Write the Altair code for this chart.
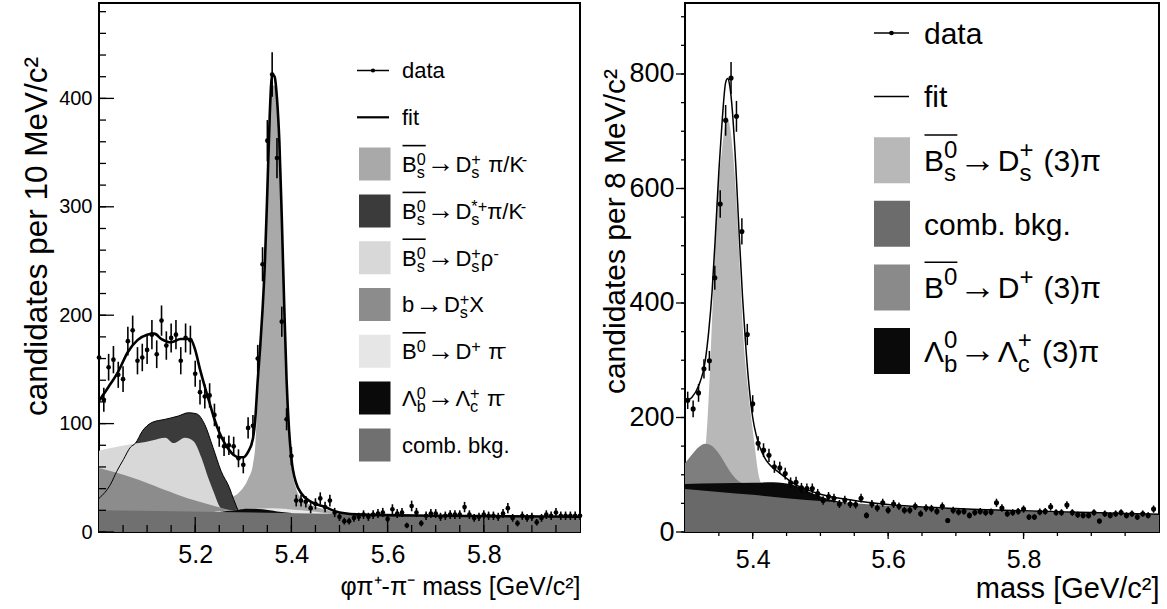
import altair as alt
import numpy as np
import pandas as pd

FONT = "Liberation Sans"

# ======================= LEFT PANEL: phi pi+ - pi- mass =======================
left_bin_start = 5.00
left_bin_width = 0.01
left_counts = [161, 122, 152, 159, 145, 141, 176, 186, 158, 161,
               168, 182, 164, 195, 172, 179, 182, 158, 179, 177,
               146, 129, 125, 126, 108, 88, 79, 80, 79, 68,
               62, 96, 98, 160, 247, 361, 422, 345, 194, 104,
               70, 29, 29, 28, 22, 26, 31, 23, 29, 18,
               14, 10, 10, 13, 14, 16, 14, 16, 17, 18,
               12, 21, 17, 18, 6, 24, 18, 8, 15, 17,
               17, 14, 15, 16, 16, 16, 23, 16, 13, 14,
               16, 15, 15, 14, 17, 22, 13, 8, 15, 13,
               14, 9, 13, 16, 15, 18, 15, 15, 15, 15, 15]

left_fit_m = [5.00, 5.02, 5.04, 5.06, 5.08, 5.10, 5.115, 5.13, 5.15, 5.17,
              5.19, 5.20, 5.21, 5.22, 5.23, 5.24, 5.25, 5.26, 5.27, 5.28,
              5.29, 5.30, 5.31, 5.32, 5.325, 5.33, 5.335, 5.34, 5.345, 5.35,
              5.355, 5.36, 5.365, 5.37, 5.375, 5.38, 5.385, 5.39, 5.395, 5.40,
              5.41, 5.42, 5.44, 5.47, 5.50, 5.55, 5.70, 6.00]
left_fit_n = [121, 134, 148, 166, 177, 182, 183, 178, 175, 178,
              178, 168, 150, 134, 119, 104, 92, 83, 76, 71,
              69, 69, 74, 86, 105, 140, 170, 205, 250, 315,
              385, 422, 420, 400, 360, 290, 210, 140, 95, 68,
              45, 36, 28, 23, 18, 16, 15, 14]

# component curves (cumulative tops, drawn back to front)
left_sig_m = [5.15, 5.20, 5.25, 5.27, 5.29, 5.30, 5.31, 5.32, 5.325, 5.33,
              5.335, 5.34, 5.345, 5.35, 5.355, 5.36, 5.365, 5.37, 5.375, 5.38,
              5.385, 5.39, 5.395, 5.40, 5.41, 5.42, 5.44, 5.47, 5.50, 5.55, 5.70, 6.00]
left_sig_n = [19, 22, 27, 31, 36, 41, 49, 62, 80, 125,
              160, 195, 240, 305, 375, 412, 412, 392, 352, 282,
              203, 133, 88, 62, 40, 31, 25, 21, 17, 16, 15, 13.5]
left_dstar_m = [5.00, 5.024, 5.037, 5.051, 5.065, 5.076, 5.09, 5.11, 5.138, 5.165,
                5.186, 5.203, 5.22, 5.237, 5.254, 5.271, 5.28, 5.29]
left_dstar_n = [31, 44, 56, 67, 78, 82, 93, 101, 104, 107,
                110, 109, 99, 78, 56, 41, 30, 19]
left_rho_m = [5.00, 5.03, 5.066, 5.083, 5.11, 5.138, 5.155, 5.179, 5.196, 5.213,
              5.227, 5.24, 5.25, 5.26]
left_rho_n = [75, 78, 81, 82, 84.5, 87, 82, 87, 84, 68.5,
              50, 35, 24, 19]
left_bx_m = [5.00, 5.07, 5.13, 5.20, 5.24, 5.28, 5.30]
left_bx_n = [59, 50, 40, 29, 24, 19.5, 18.5]
left_b0_m = [5.24, 5.30, 5.36, 5.42, 5.48]
left_b0_n = [18.6, 21, 22, 20, 16.8]
left_lb_m = [5.25, 5.28, 5.31, 5.34, 5.37, 5.40]
left_lb_n = [18.5, 20, 21.5, 21, 19, 17.6]
left_comb_m = [5.00, 5.25, 5.50, 5.75, 6.00]
left_comb_n = [20, 18.5, 16.5, 14.5, 13]

left_y_labels = [0, 100, 200, 300, 400]
left_x_labels = [5.2, 5.4, 5.6, 5.8]

# ======================= RIGHT PANEL: mass =======================
right_bin_start = 5.304
right_bin_width = 0.008
right_counts = [230, 215, 243, 285, 299, 444, 573, 719, 793, 726,
                525, 345, 224, 155, 143, 134, 114, 112, 102, 86,
                87, 77, 76, 76, 67, 55, 62, 59, 49, 56,
                49, 48, 59, 29, 49, 42, 51, 38, 49, 45,
                38, 38, 45, 32, 42, 41, 36, 45, 20, 38,
                35, 36, 29, 34, 36, 34, 35, 51, 42, 32,
                34, 36, 40, 26, 26, 35, 36, 44, 34, 34,
                47, 34, 30, 29, 29, 34, 19, 32, 29, 32,
                34, 29, 32, 26, 32, 29, 40]

right_fit_m = [5.30, 5.31, 5.32, 5.33, 5.335, 5.34, 5.345, 5.35, 5.355, 5.36,
               5.363, 5.366, 5.37, 5.375, 5.38, 5.385, 5.39, 5.395, 5.40, 5.405,
               5.41, 5.42, 5.43, 5.44, 5.46, 5.48, 5.50, 5.55, 5.60, 5.70,
               5.80, 5.90, 6.00]
right_fit_n = [228, 235, 255, 300, 350, 420, 520, 630, 720, 785,
               792, 780, 735, 640, 520, 410, 320, 250, 200, 170,
               150, 125, 112, 103, 85, 74, 66, 55, 48, 41,
               37, 34, 31]

right_sig_m = [5.30, 5.31, 5.32, 5.33, 5.337, 5.342, 5.347, 5.354, 5.362, 5.371,
               5.376, 5.381, 5.386, 5.393, 5.401, 5.41, 5.42, 5.44, 5.47, 5.50]
right_sig_n = [40, 60, 90, 145, 285, 431, 576, 660, 725, 660,
               576, 460, 344, 250, 169, 93, 70, 50, 35, 25]
right_b0_m = [5.30, 5.31, 5.32, 5.33, 5.34, 5.35, 5.36, 5.37, 5.38, 5.39, 5.40]
right_b0_n = [120, 135, 148, 154, 150, 137, 118, 100, 88, 84, 84]
right_lb_m = [5.30, 5.35, 5.40, 5.43, 5.46, 5.49, 5.52, 5.55]
right_lb_n = [84, 85, 86, 87, 82, 67, 55, 50]
right_comb_m = [5.30, 5.35, 5.40, 5.45, 5.50, 5.55, 5.60, 5.65, 5.70, 5.80, 5.90, 6.00]
right_comb_n = [75, 70, 65, 59, 54, 50, 46, 43, 40, 36, 33, 30]

right_y_labels = [0, 200, 400, 600, 800]
right_x_labels = [5.4, 5.6, 5.8]

# legend texts (pieces: normal text, superscript, sub+superscript, overlined B, arrow)
ARROW = ("arr",)
left_legend = [
    [("ob", "B", "0", "s"), ARROW, ("n", "D"), ("ss", "+", "s"), ("n", " \u03c0/K"), ("sup", "-")],
    [("ob", "B", "0", "s"), ARROW, ("n", "D"), ("ss", "*+", "s"), ("n", "\u03c0/K"), ("sup", "-")],
    [("ob", "B", "0", "s"), ARROW, ("n", "D"), ("ss", "+", "s"), ("n", "\u03c1"), ("sup", "-")],
    [("n", "b"), ARROW, ("n", "D"), ("ss", "+", "s"), ("n", "X")],
    [("ob", "B", "0", None), ARROW, ("n", "D"), ("sup", "+"), ("n", " \u03c0"), ("sup", "-")],
    [("n", "\u039b"), ("ss", "0", "b"), ARROW, ("n", "\u039b"), ("ss", "+", "c"), ("n", " \u03c0"), ("sup", "-")],
    [("n", "comb. bkg.")],
]
left_legend_colors = ["#a9a9a9", "#3b3b3b", "#d8d8d8", "#8c8c8c", "#e6e6e6", "#0a0a0a", "#707070"]

right_legend = [
    [("ob", "B", "0", "s"), ARROW, ("n", "D"), ("ss", "+", "s"), ("n", " (3)\u03c0")],
    [("n", "comb. bkg.")],
    [("ob", "B", "0", None), ARROW, ("n", "D"), ("sup", "+"), ("n", " (3)\u03c0")],
    [("n", "\u039b"), ("ss", "0", "b"), ARROW, ("n", "\u039b"), ("ss", "+", "c"), ("n", " (3)\u03c0")],
]
right_legend_colors = ["#b8b8b8", "#6c6c6c", "#8a8a8a", "#0a0a0a"]

# ---------------------------------------------------------------------------
W = {' ': 0.278, 'a': 0.556, 'b': 0.556, 'c': 0.5, 'd': 0.556, 'e': 0.556, 'f': 0.278,
     'g': 0.556, 'i': 0.222, 'k': 0.5, 'm': 0.833, 'o': 0.556, 's': 0.5, 't': 0.278,
     '.': 0.278, 'B': 0.667, 'D': 0.722, 'K': 0.667, 'X': 0.667, '0': 0.556, '3': 0.556,
     '+': 0.584, '-': 0.333, '/': 0.278, '(': 0.333, ')': 0.333, '*': 0.389,
     '\u03c0': 0.58, '\u03c1': 0.58, '\u039b': 0.667}


def tw(s, size):
    return sum(W.get(ch, 0.556) for ch in s) * size


def layout_label(pieces, x0, base, F, small, up, down):
    texts, arrows, lines = [], [], []
    x = x0
    fs = small * F
    for p in pieces:
        k = p[0]
        if k == "n":
            s = p[1]
            lead = len(s) - len(s.lstrip(" "))
            x += lead * W[" "] * F * 1.2
            s = s.lstrip(" ")
            texts.append((x, base, s, F))
            x += tw(s, F)
        elif k == "arr":
            gap, aw = 0.2 * F, 0.95 * F
            arrows.append((x + gap + aw / 2, base + 0.02 * F, "\u2192", 1.25 * F))
            x += 2 * gap + aw
        elif k == "sup":
            texts.append((x, base - up * F, p[1], fs))
            x += tw(p[1], fs)
        elif k == "ss":
            texts.append((x, base - up * F, p[1], fs))
            texts.append((x, base + down * F, p[2], fs))
            x += max(tw(p[1], fs), tw(p[2], fs))
        elif k == "ob":
            texts.append((x, base, p[1], F))
            xb = x + tw(p[1], F)
            texts.append((xb, base - up * F, p[2], fs))
            w2 = tw(p[2], fs)
            if p[3]:
                texts.append((xb, base + down * F, p[3], fs))
                w2 = max(w2, tw(p[3], fs))
            lines.append((x + 0.5, xb + w2, base - 1.2 * F))
            x = xb + w2
    return texts, arrows, lines


def legend_layers(entries, colors, F, small, up, down, row0, dy, sw_x0, sw_x1, sw_h,
                  text_x, fit_w, dot_size, line_x0, line_x1):
    texts, arrows, olines, rects = [], [], [], []
    rows = [("data", row0), ("fit", row0 + dy)]
    for lab, yc in rows:
        texts.append((text_x, yc + 0.36 * F, lab, F))
    for i, pieces in enumerate(entries):
        yc = row0 + dy * (i + 2)
        t, a, l = layout_label(pieces, text_x, yc + 0.36 * F, F, small, up, down)
        texts += t
        arrows += a
        olines += l
        rects.append((sw_x0, sw_x1, yc - sw_h / 2, yc + sw_h / 2, colors[i]))
    tdf = pd.DataFrame(texts, columns=["x", "y", "t", "s"])
    adf = pd.DataFrame(arrows, columns=["x", "y", "t", "s"])
    odf = pd.DataFrame(olines, columns=["x", "x2", "y"])
    rdf = pd.DataFrame(rects, columns=["x", "x2", "y", "y2", "c"])
    sym = pd.DataFrame({"x": [line_x0], "x2": [line_x1], "y": [row0],
                        "xd": [(line_x0 + line_x1) / 2]})
    fsym = pd.DataFrame({"x": [line_x0], "x2": [line_x1], "y": [row0 + dy]})
    nx = dict(scale=None, axis=None)
    L = []
    L.append(alt.Chart(rdf).mark_rect().encode(
        x=alt.X("x:Q", **nx), x2="x2:Q", y=alt.Y("y:Q", **nx), y2="y2:Q",
        color=alt.Color("c:N", scale=None, legend=None)))
    L.append(alt.Chart(tdf).mark_text(align="left", baseline="alphabetic", font=FONT,
                                      color="black").encode(
        x=alt.X("x:Q", **nx), y=alt.Y("y:Q", **nx), text="t:N",
        size=alt.Size("s:Q", scale=None, legend=None)))
    L.append(alt.Chart(adf).mark_text(align="center", baseline="alphabetic", font=FONT,
                                      color="black").encode(
        x=alt.X("x:Q", **nx), y=alt.Y("y:Q", **nx), text="t:N",
        size=alt.Size("s:Q", scale=None, legend=None)))
    L.append(alt.Chart(odf).mark_rule(color="black", strokeWidth=1.6).encode(
        x=alt.X("x:Q", **nx), x2="x2:Q", y=alt.Y("y:Q", **nx)))
    L.append(alt.Chart(sym).mark_rule(color="black", strokeWidth=1.5).encode(
        x=alt.X("x:Q", **nx), x2="x2:Q", y=alt.Y("y:Q", **nx)))
    L.append(alt.Chart(sym).mark_circle(color="black", opacity=1, size=dot_size).encode(
        x=alt.X("xd:Q", **nx), y=alt.Y("y:Q", **nx)))
    L.append(alt.Chart(fsym).mark_rule(color="black", strokeWidth=fit_w).encode(
        x=alt.X("x:Q", **nx), x2="x2:Q", y=alt.Y("y:Q", **nx)))
    return L


def area(ms, ns, color, xs, ys, xa, ya):
    df = pd.DataFrame({"m": ms, "v": ns})
    return alt.Chart(df).mark_area(color=color, interpolate="monotone", clip=True,
                                   opacity=1).encode(
        x=alt.X("m:Q", scale=xs, axis=xa), y=alt.Y("v:Q", scale=ys, axis=ya))


def line(ms, ns, width, xs, ys, xa, ya):
    df = pd.DataFrame({"m": ms, "v": ns})
    return alt.Chart(df).mark_line(color="black", strokeWidth=width, interpolate="monotone",
                                   clip=True).encode(
        x=alt.X("m:Q", scale=xs, axis=xa), y=alt.Y("v:Q", scale=ys, axis=ya))


def data_layers(start, width, counts, xs, ys, xa, ya, dot, ew):
    df = pd.DataFrame({"m": np.round(start + width * np.arange(len(counts)), 4),
                       "n": counts})
    base = alt.Chart(df).transform_calculate(
        lo="datum.n - sqrt(datum.n)", hi="datum.n + sqrt(datum.n)")
    bars = base.mark_rule(color="black", strokeWidth=ew).encode(
        x=alt.X("m:Q", scale=xs, axis=xa), y=alt.Y("lo:Q", scale=ys, axis=ya), y2="hi:Q")
    pts = alt.Chart(df).mark_circle(color="black", opacity=1, size=dot).encode(
        x=alt.X("m:Q", scale=xs, axis=xa), y=alt.Y("n:Q", scale=ys, axis=ya))
    return [bars, pts]


def tick_rules(values, channel, scale, axis, length, H, inward, width=1.3):
    df = pd.DataFrame({"v": values})
    c = alt.Chart(df).mark_rule(color="black", strokeWidth=width)
    if channel == "y":
        x0, x1 = (0, length) if inward else (0, -length)
        return c.encode(y=alt.Y("v:Q", scale=scale, axis=axis),
                        x=alt.value(x0), x2=alt.value(x1))
    y0, y1 = (H, H - length) if inward else (H, H + length)
    return c.encode(x=alt.X("v:Q", scale=scale, axis=axis),
                    y=alt.value(y0), y2=alt.value(y1))


H = 529

# ---------------- left chart ----------------
LW = 481
lxs = alt.Scale(domain=[5.0, 6.0], nice=False, zero=False)
lys = alt.Scale(domain=[0, 488], nice=False, zero=True)
lxa = alt.Axis(values=left_x_labels, format=".1f", ticks=False, domain=False, grid=False,
               labelFontSize=25, labelPadding=10, labelColor="black", labelFont=FONT,
               title="\u03c6\u03c0\u207a-\u03c0\u207b mass [GeV/c\u00b2]", titleFontSize=25,
               titleFont=FONT, titleFontWeight="normal", titleColor="black",
               titleAnchor="end", titleAlign="right", titleBaseline="alphabetic",
               titleX=LW, titleY=62)
lya = alt.Axis(values=left_y_labels, ticks=False, domain=False, grid=False,
               labelFontSize=20, labelPadding=7, labelColor="black", labelFont=FONT,
               title="candidates per 10 MeV/c\u00b2", titleFontSize=31.5, titleFont=FONT,
               titleFontWeight="normal", titleColor="black", titleAngle=270,
               titleAlign="center", titleBaseline="alphabetic", titleX=-53, titleY=233)

left_layers = [area(left_sig_m, left_sig_n, "#a9a9a9", lxs, lys, lxa, lya),
               area(left_dstar_m, left_dstar_n, "#3b3b3b", lxs, lys, lxa, lya),
               area(left_rho_m, left_rho_n, "#d8d8d8", lxs, lys, lxa, lya),
               area(left_bx_m, left_bx_n, "#8c8c8c", lxs, lys, lxa, lya),
               area(left_b0_m, left_b0_n, "#e9e9e9", lxs, lys, lxa, lya),
               area(left_lb_m, left_lb_n, "#0a0a0a", lxs, lys, lxa, lya),
               area(left_comb_m, left_comb_n, "#707070", lxs, lys, lxa, lya),
               line(left_dstar_m, left_dstar_n, 1.0, lxs, lys, lxa, lya),
               tick_rules(list(range(0, 481, 20)), "y", lys, lya, 7, H, True),
               tick_rules(left_y_labels, "y", lys, lya, 15, H, True),
               tick_rules(list(np.round(np.arange(5.05, 5.96, 0.05), 2)), "x", lxs, lxa, 7, H, True),
               tick_rules(left_x_labels, "x", lxs, lxa, 15, H, True),
               line(left_fit_m, left_fit_n, 2.6, lxs, lys, lxa, lya)]
left_layers += data_layers(left_bin_start, left_bin_width, left_counts, lxs, lys, lxa, lya, 22, 1.6)
left_layers += legend_layers(left_legend, left_legend_colors, F=22, small=0.74, up=0.32,
                             down=0.27, row0=67.5, dy=46.8, sw_x0=260, sw_x1=291.5,
                             sw_h=33, text_x=303, fit_w=2.2, dot_size=18,
                             line_x0=258, line_x1=290)
left = alt.layer(*left_layers).properties(width=LW, height=H)

# ---------------- right chart ----------------
RW = 474
rxs = alt.Scale(domain=[5.3, 6.0], nice=False, zero=False)
rys = alt.Scale(domain=[0, 924], nice=False, zero=True)
rxa = alt.Axis(values=right_x_labels, format=".1f", ticks=False, domain=False, grid=False,
               labelFontSize=25, labelPadding=15, labelColor="black", labelFont=FONT,
               title="mass [GeV/c\u00b2]", titleFontSize=29, titleFont=FONT,
               titleFontWeight="normal", titleColor="black", titleAnchor="end",
               titleAlign="right", titleBaseline="alphabetic", titleX=RW, titleY=65)
rya = alt.Axis(values=right_y_labels, ticks=False, domain=False, grid=False,
               labelFontSize=27, labelPadding=11, labelColor="black", labelFont=FONT,
               title="candidates per 8 MeV/c\u00b2", titleFontSize=30, titleFont=FONT,
               titleFontWeight="normal", titleColor="black", titleAngle=270,
               titleAlign="center", titleBaseline="alphabetic", titleX=-61, titleY=228)

right_layers = [area(right_sig_m, right_sig_n, "#b8b8b8", rxs, rys, rxa, rya),
                area(right_b0_m, right_b0_n, "#7e7e7e", rxs, rys, rxa, rya),
                area(right_lb_m, right_lb_n, "#0a0a0a", rxs, rys, rxa, rya),
                area(right_comb_m, right_comb_n, "#696969", rxs, rys, rxa, rya),
                tick_rules(list(range(0, 901, 50)), "y", rys, rya, 4, H, False),
                tick_rules(right_y_labels, "y", rys, rya, 9, H, False),
                tick_rules(list(np.round(np.arange(5.35, 5.96, 0.05), 2)), "x", rxs, rxa, 4, H, False),
                tick_rules(right_x_labels, "x", rxs, rxa, 7, H, False),
                line(right_fit_m, right_fit_n, 1.5, rxs, rys, rxa, rya)]
right_layers += data_layers(right_bin_start, right_bin_width, right_counts, rxs, rys, rxa, rya, 26, 1.5)
right_layers += legend_layers(right_legend, right_legend_colors, F=30, small=0.8, up=0.45,
                              down=0.33, row0=30, dy=63.6, sw_x0=189, sw_x1=225,
                              sw_h=46, text_x=239, fit_w=1.5, dot_size=22,
                              line_x0=189, line_x1=224)
right = alt.layer(*right_layers).properties(width=RW, height=H)

chart = alt.hconcat(left, right, spacing=14).properties(
    padding={"left": 19, "top": 2, "right": 0, "bottom": 0}
).configure(font=FONT).configure_view(stroke="black", strokeWidth=2)

chart.save("out.html", embed_options={"renderer": "svg", "actions": False})
